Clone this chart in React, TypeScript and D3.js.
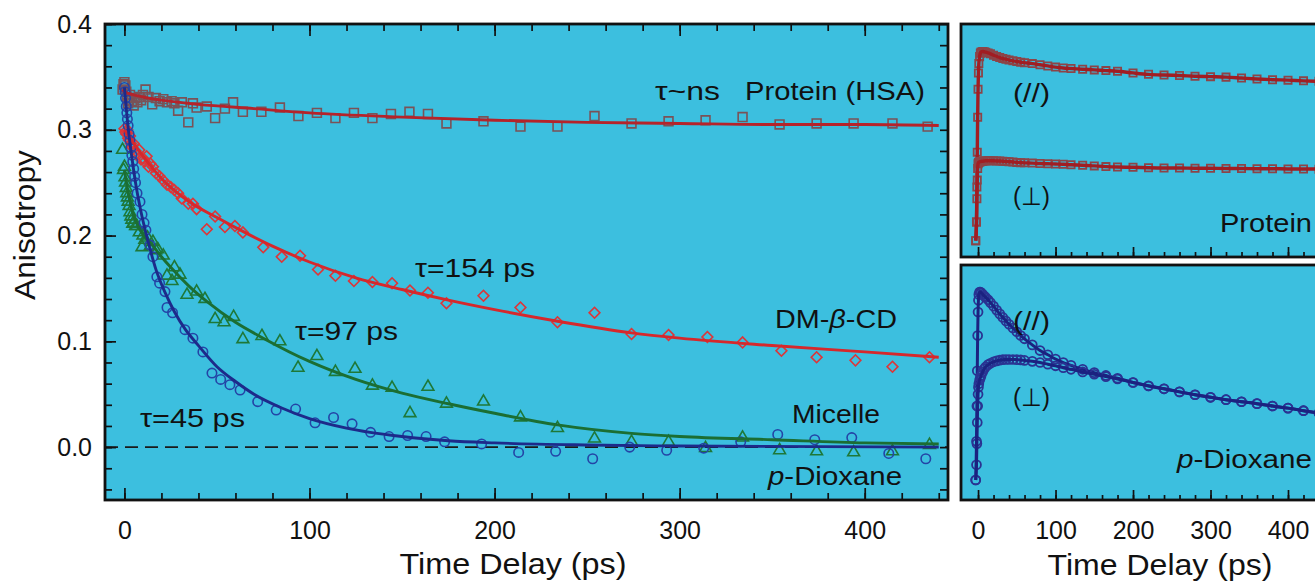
import { useEffect, useRef } from 'react'
import * as d3 from 'd3'

const W = 1315
const H = 585
const FONT = '"Liberation Sans", Arial, Helvetica, sans-serif'
const BG = '#3cbfdf'

// ---- left panel: anisotropy r(t) ----
const hsaT = [-1, -0.5, 0, 0.5, 1, 1.5, 2, 2.5, 3, 4, 5, 6, 7, 8, 9, 10, 11.4, 13, 15, 17, 19, 21, 23, 25.5, 27, 29, 31, 34.5, 37, 39, 44.5, 49, 54.3, 58.7, 64, 74, 84, 94, 104, 114, 124, 134, 144, 154, 164, 174, 194, 214, 234, 254, 274, 294, 314, 334, 354, 374, 394, 415, 434]
const hsaR = [0.338, 0.343, 0.345, 0.342, 0.336, 0.330, 0.325, 0.328, 0.333, 0.327, 0.323, 0.330, 0.326, 0.331, 0.328, 0.333, 0.338, 0.331, 0.324, 0.330, 0.327, 0.329, 0.326, 0.327, 0.325, 0.318, 0.326, 0.307, 0.325, 0.321, 0.322, 0.311, 0.320, 0.326, 0.317, 0.317, 0.321, 0.313, 0.316, 0.311, 0.316, 0.311, 0.315, 0.317, 0.315, 0.306, 0.308, 0.303, 0.303, 0.313, 0.306, 0.308, 0.309, 0.312, 0.305, 0.306, 0.306, 0.306, 0.303]
const hsaFitT = [-1, 0, 5, 10, 20, 40, 70, 100, 150, 200, 250, 300, 350, 400, 440]
const hsaFitR = [0.338, 0.336, 0.333, 0.331, 0.328, 0.324, 0.320, 0.316, 0.312, 0.309, 0.307, 0.306, 0.305, 0.305, 0.304]

const cdT = [0, 0.5, 1, 1.5, 2, 2.5, 3, 3.5, 4, 5, 6, 7, 8, 9, 10, 11, 12, 13, 14, 15.4, 17, 19, 21, 23, 25, 27, 29, 31, 34.5, 37, 39, 44.5, 49, 54.3, 59.7, 64, 75, 85, 94.9, 104.6, 114, 124, 134, 144.6, 154.3, 164, 174, 194, 214, 234, 254, 274, 294, 315, 334, 355, 374, 395, 415, 435]
const cdR = [0.301, 0.298, 0.296, 0.300, 0.292, 0.290, 0.294, 0.287, 0.284, 0.287, 0.280, 0.276, 0.281, 0.272, 0.273, 0.270, 0.275, 0.265, 0.268, 0.265, 0.259, 0.256, 0.252, 0.248, 0.246, 0.243, 0.240, 0.235, 0.230, 0.230, 0.225, 0.206, 0.218, 0.208, 0.209, 0.203, 0.189, 0.180, 0.181, 0.168, 0.162, 0.157, 0.156, 0.155, 0.148, 0.146, 0.136, 0.143, 0.132, 0.118, 0.127, 0.107, 0.106, 0.104, 0.099, 0.091, 0.085, 0.082, 0.076, 0.085]
const cdFitT = [0, 10, 20, 35, 50, 65, 80, 100, 125, 150, 175, 200, 234, 274, 300, 350, 400, 440]
const cdFitR = [0.300, 0.275, 0.254, 0.232, 0.217, 0.203, 0.190, 0.175, 0.160, 0.149, 0.139, 0.130, 0.119, 0.108, 0.103, 0.096, 0.090, 0.085]

const micT = [-1, -0.5, 0, 0.3, 0.6, 1, 1.3, 1.6, 2, 2.5, 3, 3.5, 4, 4.5, 5, 6, 6.7, 8, 9.5, 10, 11, 12.5, 14, 15.4, 17, 18, 21, 23, 25.7, 27, 30, 33.8, 39, 43.5, 49, 53.8, 59, 64, 74.3, 84, 93.8, 104, 114, 124.6, 134, 144.6, 154.3, 164, 174, 194, 214, 234, 254, 274, 294, 314, 334, 354, 374, 394, 415, 435]
const micR = [0.281, 0.262, 0.265, 0.255, 0.250, 0.245, 0.240, 0.236, 0.232, 0.228, 0.222, 0.218, 0.215, 0.211, 0.212, 0.209, 0.209, 0.203, 0.189, 0.200, 0.196, 0.198, 0.190, 0.194, 0.186, 0.187, 0.181, 0.162, 0.157, 0.170, 0.163, 0.144, 0.147, 0.140, 0.121, 0.118, 0.123, 0.102, 0.105, 0.100, 0.075, 0.086, 0.071, 0.074, 0.058, 0.056, 0.032, 0.057, 0.041, 0.043, 0.028, 0.018, 0.008, 0.005, 0.005, -0.001, 0.009, -0.003, -0.004, -0.005, -0.004, 0.002]
const micFitT = [0, 2, 4, 7, 10, 15, 20, 25, 35, 45, 60, 75, 100, 125, 150, 175, 200, 234, 274, 300, 350, 400, 440]
const micFitR = [0.262, 0.240, 0.225, 0.210, 0.201, 0.191, 0.180, 0.170, 0.152, 0.137, 0.118, 0.103, 0.081, 0.064, 0.051, 0.041, 0.032, 0.021, 0.013, 0.010, 0.007, 0.004, 0.003]

const dioxT = [0, 0.3, 0.6, 1, 1.3, 1.6, 2, 2.5, 3, 3.5, 4, 4.5, 5, 5.5, 6, 6.8, 8.4, 9.5, 10.6, 11.6, 13.8, 15.4, 17.5, 19, 21.9, 23, 26, 32.7, 37, 42.4, 47.3, 52, 57, 62.5, 72, 82, 92.5, 103, 113, 123, 133, 143, 153, 163, 173, 193, 213, 233, 253, 273, 293, 313, 333, 353, 373, 393, 413, 433]
const dioxR = [0.340, 0.336, 0.330, 0.322, 0.316, 0.310, 0.304, 0.296, 0.290, 0.283, 0.276, 0.270, 0.263, 0.256, 0.250, 0.240, 0.232, 0.220, 0.212, 0.205, 0.191, 0.180, 0.161, 0.155, 0.147, 0.132, 0.127, 0.111, 0.103, 0.090, 0.070, 0.064, 0.059, 0.054, 0.043, 0.035, 0.036, 0.023, 0.028, 0.022, 0.014, 0.010, 0.011, 0.010, 0.005, 0.003, -0.005, -0.004, -0.011, 0.000, -0.003, -0.001, 0.005, 0.012, 0.007, 0.009, -0.006, -0.011]
const dioxFitT = [0, 2, 4, 6, 9, 13, 17, 22, 27, 33, 40, 50, 60, 70, 85, 100, 120, 150, 175, 200, 250, 300, 440]
const dioxFitR = [0.340, 0.302, 0.274, 0.250, 0.222, 0.193, 0.168, 0.146, 0.128, 0.111, 0.096, 0.076, 0.062, 0.050, 0.037, 0.027, 0.018, 0.010, 0.006, 0.004, 0.002, 0.001, 0.0]

// ---- right panels: polarized transients (normalized) ----
const rT = [-3, -2, -1.5, -1, -0.5, 0, 0.5, 1, 2, 3, 4, 6, 8, 10, 13, 16, 20, 24, 28, 32, 36, 40, 45, 50, 55, 60, 70, 80, 90, 100, 110, 120, 135, 150, 165, 180, 200, 220, 240, 260, 280, 300, 320, 340, 360, 380, 400, 420, 440]
const hsaPar = [0.07, 0.15, 0.30, 0.45, 0.60, 0.72, 0.79, 0.83, 0.86, 0.875, 0.88, 0.882, 0.881, 0.879, 0.876, 0.872, 0.866, 0.861, 0.856, 0.852, 0.849, 0.845, 0.842, 0.839, 0.836, 0.834, 0.830, 0.825, 0.820, 0.815, 0.811, 0.809, 0.806, 0.803, 0.800, 0.797, 0.790, 0.784, 0.781, 0.779, 0.776, 0.774, 0.772, 0.768, 0.764, 0.761, 0.759, 0.756, 0.754]
const hsaPerp = [0.07, 0.15, 0.25, 0.33, 0.38, 0.40, 0.405, 0.407, 0.408, 0.409, 0.41, 0.411, 0.412, 0.413, 0.413, 0.413, 0.413, 0.412, 0.412, 0.411, 0.41, 0.409, 0.408, 0.406, 0.405, 0.404, 0.403, 0.401, 0.400, 0.399, 0.398, 0.396, 0.394, 0.391, 0.388, 0.386, 0.385, 0.383, 0.382, 0.382, 0.381, 0.381, 0.380, 0.380, 0.379, 0.379, 0.378, 0.378, 0.377]
const dioxPar = [0.085, 0.25, 0.40, 0.55, 0.70, 0.80, 0.85, 0.875, 0.885, 0.885, 0.882, 0.875, 0.868, 0.862, 0.852, 0.840, 0.825, 0.808, 0.792, 0.777, 0.762, 0.748, 0.732, 0.716, 0.700, 0.686, 0.660, 0.636, 0.618, 0.600, 0.585, 0.573, 0.556, 0.542, 0.530, 0.518, 0.500, 0.485, 0.473, 0.460, 0.448, 0.437, 0.427, 0.418, 0.410, 0.400, 0.391, 0.380, 0.370]
const dioxPerp = [0.085, 0.15, 0.24, 0.33, 0.40, 0.45, 0.48, 0.495, 0.51, 0.52, 0.53, 0.545, 0.558, 0.567, 0.576, 0.582, 0.588, 0.592, 0.595, 0.597, 0.598, 0.598, 0.598, 0.597, 0.596, 0.594, 0.590, 0.585, 0.578, 0.571, 0.563, 0.556, 0.545, 0.535, 0.525, 0.515, 0.500, 0.486, 0.473, 0.460, 0.448, 0.437, 0.427, 0.418, 0.410, 0.400, 0.391, 0.380, 0.370]

const xTicks = [0, 100, 200, 300, 400]
const yTicks = [0, 0.1, 0.2, 0.3, 0.4]

const zip = (a: number[], b: number[]) => a.map((t, i) => [t, b[i]] as [number, number])

const App = () => {
  const ref = useRef<SVGSVGElement>(null)

  useEffect(() => {
    const svg = d3.select(ref.current)
    svg.selectAll('*').remove()

    // left panel scales
    const L = { x0: 105, x1: 948, y0: 24, y1: 500 }
    const x = d3.scaleLinear().domain([-10.5, 445]).range([L.x0, L.x1])
    const y = d3.scaleLinear().domain([-0.05, 0.4]).range([L.y1, L.y0])

    // right panel scales
    const xR = d3.scaleLinear().domain([-22, 440]).range([961, 1319])
    const yT = d3.scaleLinear().domain([0, 1]).range([257, 24])
    const yB = d3.scaleLinear().domain([0, 1]).range([500, 265])

    const defs = svg.append('defs')
    defs.append('clipPath').attr('id', 'clipL').append('rect')
      .attr('x', L.x0).attr('y', L.y0).attr('width', L.x1 - L.x0).attr('height', L.y1 - L.y0)
    defs.append('clipPath').attr('id', 'clipT').append('rect')
      .attr('x', 961).attr('y', 24).attr('width', 400).attr('height', 233)
    defs.append('clipPath').attr('id', 'clipB').append('rect')
      .attr('x', 961).attr('y', 265).attr('width', 400).attr('height', 235)

    svg.append('rect').attr('x', L.x0).attr('y', L.y0).attr('width', L.x1 - L.x0).attr('height', L.y1 - L.y0).attr('fill', BG)
    svg.append('rect').attr('x', 961).attr('y', 24).attr('width', 400).attr('height', 233).attr('fill', BG)
    svg.append('rect').attr('x', 961).attr('y', 265).attr('width', 400).attr('height', 235).attr('fill', BG)

    // ---- left plot content ----
    const gL = svg.append('g').attr('clip-path', 'url(#clipL)')

    gL.append('line')
      .attr('x1', L.x0).attr('x2', L.x1).attr('y1', y(0)).attr('y2', y(0))
      .attr('stroke', '#1a1a1a').attr('stroke-width', 1.7).attr('stroke-dasharray', '13,7')

    const fitLine = d3.line<[number, number]>().x(d => x(d[0])).y(d => y(d[1])).curve(d3.curveMonotoneX)

    const sq = d3.symbol().type(d3.symbolSquare).size(78)()
    const dia = d3.symbol().type(d3.symbolSquare).size(58)()
    const tri = d3.symbol().type(d3.symbolTriangle).size(60)()
    const circ = d3.symbol().type(d3.symbolCircle).size(70)()

    const markers = (g: any, pts: [number, number][], path: string | null, color: string, rot: number, sx: any, sy: any, sw = 1.6) => {
      g.append('g').selectAll('path').data(pts).join('path')
        .attr('d', path)
        .attr('transform', (d: [number, number]) => `translate(${sx(d[0])},${sy(d[1])}) rotate(${rot})`)
        .attr('fill', 'none').attr('stroke', color).attr('stroke-width', sw)
    }

    markers(gL, zip(hsaT, hsaR), sq, '#7a5257', 0, x, y)
    markers(gL, zip(cdT, cdR), dia, '#dc3639', 45, x, y)
    markers(gL, zip(micT, micR), tri, '#1e7838', 0, x, y)
    markers(gL, zip(dioxT, dioxR), circ, '#2444a6', 0, x, y)

    const fits: [number[], number[], string][] = [
      [hsaFitT, hsaFitR, '#b5232a'],
      [cdFitT, cdFitR, '#d6282c'],
      [micFitT, micFitR, '#1b6e33'],
      [dioxFitT, dioxFitR, '#1d2a8a'],
    ]
    fits.forEach(([t, r, c]) => {
      gL.append('path').datum(zip(t, r)).attr('d', fitLine)
        .attr('fill', 'none').attr('stroke', c).attr('stroke-width', 2.9)
    })

    // ---- left axes ----
    const styleAxis = (g: any) => {
      g.select('.domain').remove()
      g.selectAll('line').attr('stroke', '#111').attr('stroke-width', 1.7)
      g.selectAll('text').attr('font-family', FONT).attr('font-size', 25).attr('fill', '#111')
    }
    const minorX = d3.range(0, 441, 20)
    const minorY = d3.range(-0.04, 0.401, 0.02)

    svg.append('g').attr('transform', `translate(0,${L.y1})`)
      .call(d3.axisBottom(x).tickValues(minorX).tickSize(-7).tickFormat(() => '')).call(styleAxis)
    svg.append('g').attr('transform', `translate(0,${L.y1})`)
      .call(d3.axisBottom(x).tickValues(xTicks).tickSize(-12).tickPadding(21).tickFormat(d3.format('d'))).call(styleAxis)
    svg.append('g').attr('transform', `translate(0,${L.y0})`)
      .call(d3.axisTop(x).tickValues(minorX).tickSize(-7).tickFormat(() => '')).call(styleAxis)
    svg.append('g').attr('transform', `translate(0,${L.y0})`)
      .call(d3.axisTop(x).tickValues(xTicks).tickSize(-12).tickFormat(() => '')).call(styleAxis)
    svg.append('g').attr('transform', `translate(${L.x0},0)`)
      .call(d3.axisLeft(y).tickValues(minorY).tickSize(-7).tickFormat(() => '')).call(styleAxis)
    svg.append('g').attr('transform', `translate(${L.x0},0)`)
      .call(d3.axisLeft(y).tickValues(yTicks).tickSize(-11).tickPadding(13).tickFormat(d3.format('.1f'))).call(styleAxis)
    svg.append('g').attr('transform', `translate(${L.x1},0)`)
      .call(d3.axisRight(y).tickValues(minorY).tickSize(-8).tickFormat(() => '')).call(styleAxis)

    // ---- right panels ----
    const gT = svg.append('g').attr('clip-path', 'url(#clipT)')
    const gB = svg.append('g').attr('clip-path', 'url(#clipB)')
    const sqS = d3.symbol().type(d3.symbolSquare).size(52)()
    const circS = d3.symbol().type(d3.symbolCircle).size(62)()

    const rLine = (sy: any) => d3.line<[number, number]>().x(d => xR(d[0])).y(d => sy(d[1])).curve(d3.curveMonotoneX)

    ;[hsaPar, hsaPerp].forEach(v => {
      markers(gT, zip(rT, v), sqS, '#8c4448', 0, xR, yT, 1.8)
      gT.append('path').datum(zip(rT, v)).attr('d', rLine(yT))
        .attr('fill', 'none').attr('stroke', '#a11d22').attr('stroke-width', 3.4)
    })
    ;[dioxPar, dioxPerp].forEach(v => {
      markers(gB, zip(rT, v), circS, '#2a3392', 0, xR, yB, 1.8)
      gB.append('path').datum(zip(rT, v)).attr('d', rLine(yB))
        .attr('fill', 'none').attr('stroke', '#1b2280').attr('stroke-width', 3)
    })

    const minorR = d3.range(0, 441, 20)
    ;[257, 500].forEach((yy, i) => {
      svg.append('g').attr('transform', `translate(0,${yy})`)
        .call(d3.axisBottom(xR).tickValues(minorR).tickSize(-5).tickFormat(() => '')).call(styleAxis)
      svg.append('g').attr('transform', `translate(0,${yy})`)
        .call(d3.axisBottom(xR).tickValues(xTicks).tickSize(-10).tickPadding(21)
          .tickFormat(i === 1 ? d3.format('d') : () => '')).call(styleAxis)
    })

    // frames
    const frame = (x0: number, y0: number, w: number, h: number) =>
      svg.append('rect').attr('x', x0).attr('y', y0).attr('width', w).attr('height', h)
        .attr('fill', 'none').attr('stroke', '#111').attr('stroke-width', 2.8)
    frame(L.x0, L.y0, L.x1 - L.x0, L.y1 - L.y0)
    frame(961, 24, 400, 233)
    frame(961, 265, 400, 235)

    // ---- text ----
    const label = (tx: number, ty: number, parts: [string, boolean][], len: number, size = 25, anchor = 'start') => {
      const t = svg.append('text').attr('x', tx).attr('y', ty)
        .attr('font-family', FONT).attr('font-size', size).attr('fill', '#111')
        .attr('text-anchor', anchor)
        .attr('textLength', len).attr('lengthAdjust', 'spacingAndGlyphs')
      parts.forEach(([s, it]) => t.append('tspan').attr('font-style', it ? 'italic' : 'normal').text(s))
      return t
    }

    label(655, 100, [['τ~ns', false]], 65)
    label(745, 100, [['Protein (HSA)', false]], 180)
    label(415, 277, [['τ=154 ps', false]], 120)
    label(775, 328, [['DM-', false], ['β', true], ['-CD', false]], 122)
    label(295, 340, [['τ=97 ps', false]], 103)
    label(140, 427, [['τ=45 ps', false]], 105)
    label(792, 423, [['Micelle', false]], 88)
    label(768, 485, [['p', true], ['-Dioxane', false]], 134)

    label(1013, 102, [['(//)', false]], 37)
    label(1013, 205, [['(⊥)', false]], 37)
    label(1220, 232, [['Protein', false]], 92)
    label(1013, 330, [['(//)', false]], 37)
    label(1013, 406, [['(⊥)', false]], 37)
    label(1177, 468, [['p', true], ['-Dioxane', false]], 135)

    label(513, 574, [['Time Delay (ps)', false]], 227, 30, 'middle')
    label(1160, 575, [['Time Delay (ps)', false]], 225, 30, 'middle')
    label(0, 0, [['Anisotropy', false]], 150, 29, 'middle')
      .attr('transform', 'translate(35,225) rotate(-90)')
  }, [])

  return (
    <svg ref={ref} width={W} height={H}
      style={{ position: 'absolute', left: 0, top: 0, background: '#fff' }} />
  )
}

export default App
